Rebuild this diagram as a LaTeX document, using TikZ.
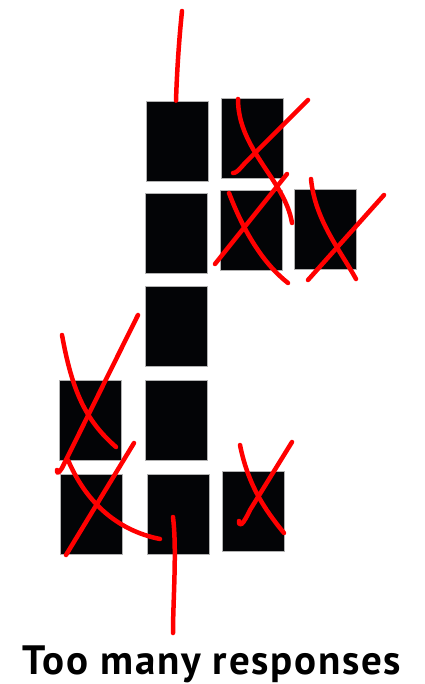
\documentclass[tikz,border=0pt]{standalone}
\usepackage{fontspec}
\setsansfont{PT Sans}
\newfontfamily\captionfont[LetterSpace=4.2]{PT Sans}
\begin{document}
\begin{tikzpicture}[
    x=1pt, y=-1pt,
    resp_box/.style={rectangle, draw=gray!60, line width=0.8pt, fill={rgb,255:red,3;green,4;blue,6}, minimum width=62pt, minimum height=80pt, inner sep=0pt},
    pen_mark/.style={draw=red, line width=4.5pt, line cap=round, line join=round},
    caption_text/.style={font=\captionfont\bfseries\fontsize{41}{46}\selectfont, inner sep=0pt}
]
\useasboundingbox (0,0) rectangle (424,684);
% middle column
\node[resp_box] (m1) at (177,141) {};
\node[resp_box] (m2) at (176,233) {};
\node[resp_box] (m3) at (176,326) {};
\node[resp_box] (m4) at (176,420) {};
\node[resp_box] (m5) at (178,514) {};
% left column
\node[resp_box] (l4) at (90,420) {};
\node[resp_box] (l5) at (91,514) {};
% right columns
\node[resp_box] (r1) at (252,138) {};
\node[resp_box] (r2) at (251,230) {};
\node[resp_box] (r5) at (253,511) {};
\node[resp_box] (f2) at (325,229) {};

\node[caption_text, anchor=base] (caption) at (212,674) {Too many responses};

% pointer lines
\coordinate (top_end) at (182,11);
\coordinate (bottom_end) at (173,633);
\draw[pen_mark] (top_end) .. controls (179,40) and (177,70) .. ([xshift=-1pt]m1.north);
\draw[pen_mark] (173,517) .. controls (177,550) and (173,600) .. (bottom_end);

% crosses on rejected responses
\draw[pen_mark] (238,99) .. controls (238,150) and (285,180) .. (292,223);
\draw[pen_mark] (308,100) -- (245,163) .. controls (238,171) and (236,173) .. (233,173);
\draw[pen_mark] (229,193) .. controls (245,235) and (265,265) .. (288,283);
\draw[pen_mark] (287,174) -- (215,264);
\draw[pen_mark] (311,179) .. controls (315,220) and (340,250) .. (356,279);
\draw[pen_mark] (384,195) -- (308,280);
\draw[pen_mark] (62,335) .. controls (72,390) and (85,420) .. (116,447);
\draw[pen_mark] (138,315) -- (62,468) .. controls (58,474) and (57,474) .. (57,470);
\draw[pen_mark] (68,460) .. controls (85,500) and (115,530) .. (160,539);
\draw[pen_mark] (134,443) -- (66,555);
\draw[pen_mark] (240,445) .. controls (248,485) and (265,510) .. (284,533);
\draw[pen_mark] (292,442) -- (250,510) .. controls (243,525) and (239,528) .. (239,521);
\end{tikzpicture}
\end{document}
